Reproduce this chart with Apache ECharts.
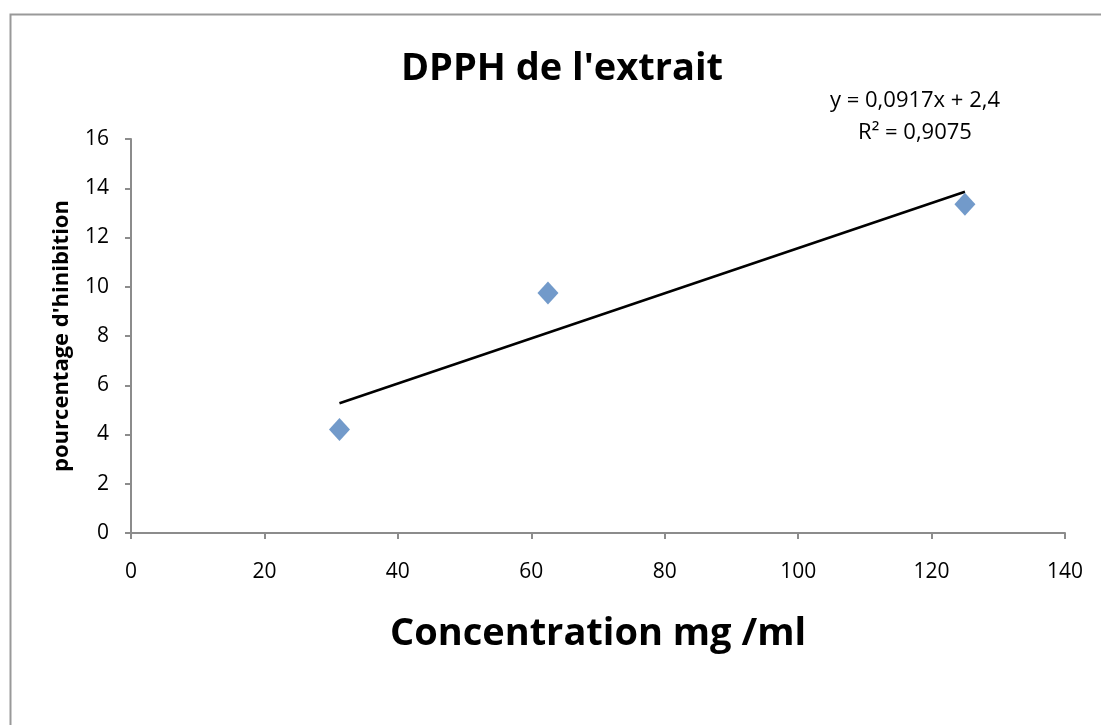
<!DOCTYPE html>
<html>
<head>
<meta charset="utf-8">
<script src="https://cdn.jsdelivr.net/npm/echarts@6/dist/echarts.min.js"></script>
<style>
  html, body { margin: 0; padding: 0; background: #fff; }
  #chart { width: 1101px; height: 725px; }
</style>
</head>
<body>
<div id="chart"></div>
<script>
// données mesurées
const concentrations = [31.25, 62.5, 125];
const inhibition = [4.2, 9.75, 13.35];
// courbe de tendance (y = 0,0917x + 2,4) aux extrémités
const trendX = [31.25, 125];
const trendY = [5.27, 13.86];
const xTicks = [0, 20, 40, 60, 80, 100, 120, 140];
const yTicks = [0, 2, 4, 6, 8, 10, 12, 14, 16];
const equationLines = ["y = 0,0917x + 2,4", "R² = 0,9075"];

const chart = echarts.init(document.getElementById("chart"));

const axisColor = "#8c8c8c";
const font = "'Open Sans', Lato, sans-serif";

chart.setOption({
  animation: false,
  backgroundColor: "#fff",
  title: {
    text: "DPPH de l'extrait",
    left: 557,
    top: 45,
    textAlign: "center",
    textStyle: { fontFamily: font, fontSize: 38, fontWeight: "bold", color: "#000" },
  },
  graphic: [
    {
      type: "rect",
      shape: { x: 10.5, y: 14.5, width: 1300, height: 900 },
      style: { fill: "none", stroke: "#999", lineWidth: 2 },
      silent: true,
    },
    {
      type: "text",
      x: 915,
      y: 85,
      style: {
        text: equationLines.join("\n"),
        fontFamily: font,
        fontSize: 22,
        lineHeight: 32,
        fill: "#000",
        align: "center",
      },
    },
  ],
  grid: { left: 131, right: 36, top: 139, bottom: 192 },
  xAxis: {
    type: "value",
    min: xTicks[0],
    max: xTicks[xTicks.length - 1],
    interval: 20,
    name: "Concentration mg /ml",
    nameLocation: "middle",
    nameGap: 82,
    nameTextStyle: { fontFamily: font, fontSize: 38, fontWeight: "bold", color: "#000" },
    axisLine: { lineStyle: { color: axisColor, width: 2 } },
    axisTick: { show: true, length: 6, lineStyle: { color: axisColor, width: 2 } },
    axisLabel: { fontFamily: font, fontSize: 21, color: "#000", margin: 29 },
    splitLine: { show: false },
  },
  yAxis: {
    type: "value",
    min: yTicks[0],
    max: yTicks[yTicks.length - 1],
    interval: 2,
    name: "pourcentage d'hinibition",
    nameLocation: "middle",
    nameGap: 58,
    nameTextStyle: { fontFamily: font, fontSize: 22, fontWeight: "bold", color: "#000" },
    axisLine: { show: true, lineStyle: { color: axisColor, width: 2 } },
    axisTick: { show: true, length: 6, lineStyle: { color: axisColor, width: 2 } },
    axisLabel: { fontFamily: font, fontSize: 21, color: "#000", margin: 22 },
    splitLine: { show: false },
  },
  series: [
    {
      type: "line",
      data: trendX.map((x, i) => [x, trendY[i]]),
      symbol: "none",
      lineStyle: { color: "#000", width: 2.5 },
      z: 2,
    },
    {
      type: "scatter",
      data: concentrations.map((x, i) => [x, inhibition[i]]),
      symbol: "diamond",
      symbolSize: [21, 23],
      itemStyle: { color: "#4f81bd" },
      z: 3,
    },
  ],
});
</script>
</body>
</html>
